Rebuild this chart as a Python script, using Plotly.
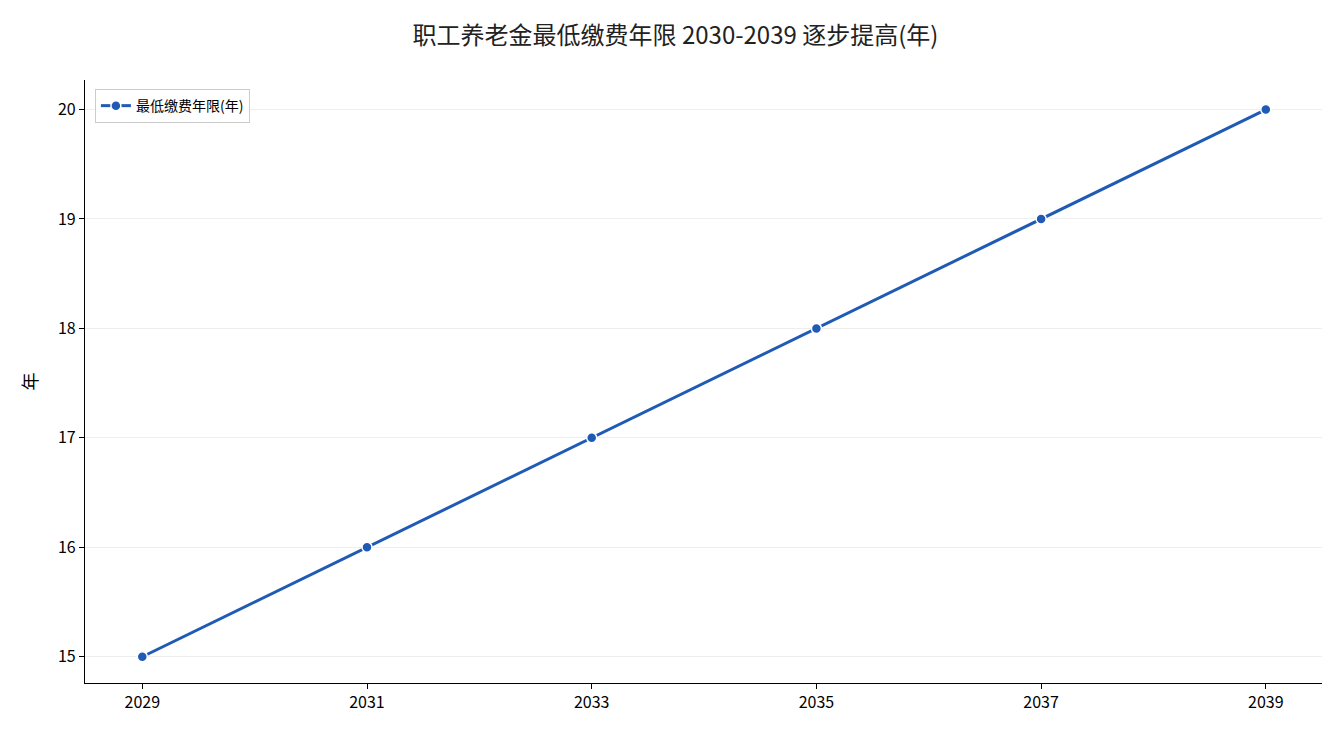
import plotly.graph_objects as go

years = [2029, 2031, 2033, 2035, 2037, 2039]
min_years = [15, 16, 17, 18, 19, 20]
series_name = "最低缴费年限(年)"
title = "职工养老金最低缴费年限 2030-2039 逐步提高(年)"

blue = "#1f5bb4"
font_family = "Noto Sans CJK SC, Noto Sans, sans-serif"

fig = go.Figure()
fig.add_trace(go.Scatter(
    x=years, y=min_years, mode="lines+markers", name=series_name,
    line=dict(color=blue, width=3),
    marker=dict(size=10, color=blue, line=dict(color="white", width=1.5)),
))

fig.update_layout(
    width=1335, height=734,
    margin=dict(l=77, r=21, t=72, b=59),
    paper_bgcolor="white", plot_bgcolor="white",
    font=dict(family=font_family, size=16, color="black"),
    title=dict(text=title, x=0.5, xanchor="center", y=0.962, yanchor="middle",
               font=dict(size=24, color="#222")),
    showlegend=True,
    legend=dict(x=0.008, y=0.985, xanchor="left", yanchor="top",
                bgcolor="white", bordercolor="#cccccc", borderwidth=1,
                font=dict(size=14)),
)
fig.update_xaxes(
    range=[2028.49, 2039.5], tickvals=years, ticktext=[str(y) for y in years],
    showgrid=False, showline=True, linecolor="black", linewidth=1.2,
    ticks="outside", ticklen=5, tickcolor="black", zeroline=False,
)
fig.update_yaxes(
    range=[14.76, 20.27], dtick=1, title=dict(text="年", font=dict(size=18)),
    showgrid=True, gridcolor="#eeeeee", gridwidth=1,
    showline=True, linecolor="black", linewidth=1.2,
    ticks="outside", ticklen=5, tickcolor="black", zeroline=False,
)

fig.write_html("out.html")
